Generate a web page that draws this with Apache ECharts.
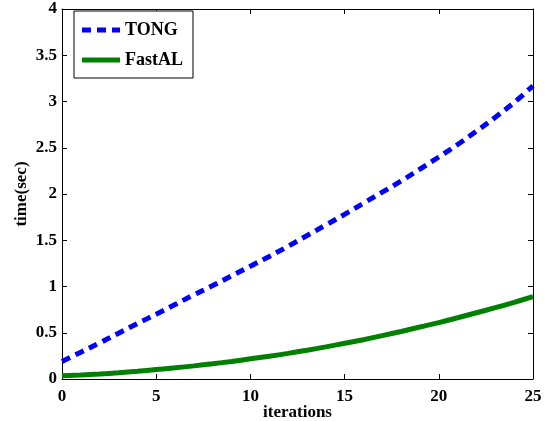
<!DOCTYPE html>
<html>
<head>
<meta charset="utf-8">
<script src="https://cdn.jsdelivr.net/npm/echarts@6/dist/echarts.min.js"></script>
<style>html,body{margin:0;padding:0;background:#fff}#c{width:550px;height:421px}</style>
</head>
<body>
<div id="c"></div>
<script>
const iterations = [0,1,2,3,4,5,6,7,8,9,10,11,12,13,14,15,16,17,18,19,20,21,22,23,24,25];
const tong = [0.19,0.29,0.39,0.495,0.60,0.70,0.805,0.91,1.01,1.115,1.22,1.325,1.435,1.55,1.665,1.78,1.90,2.02,2.14,2.27,2.40,2.535,2.68,2.83,2.99,3.17];
const fastal = [0.035,0.043,0.054,0.067,0.083,0.102,0.121,0.142,0.165,0.19,0.218,0.246,0.277,0.311,0.347,0.386,0.425,0.469,0.514,0.562,0.610,0.662,0.716,0.771,0.829,0.89];
const xTicks = [0,5,10,15,20,25];
const yTicks = [0,0.5,1,1.5,2,2.5,3,3.5,4];

const font = '"Liberation Serif","Times New Roman",serif';
const chart = echarts.init(document.getElementById('c'), null, {renderer:'canvas'});
const axisLineStyle = {color:'#000', width:1};
const baseX = {
  type:'value', min:0, max:25, interval:5,
  axisLine:{show:true, onZero:false, lineStyle:axisLineStyle},
  axisTick:{show:true, inside:true, length:5, lineStyle:axisLineStyle},
  splitLine:{show:false}
};
const baseY = {
  type:'value', min:0, max:4, interval:0.5,
  axisLine:{show:true, onZero:false, lineStyle:axisLineStyle},
  axisTick:{show:true, inside:true, length:5, lineStyle:axisLineStyle},
  splitLine:{show:false}
};
chart.setOption({
  animation:false,
  backgroundColor:'#fff',
  grid:{left:62, right:17, top:9, bottom:42, containLabel:false, outerBoundsMode:'none'},
  legend:{
    orient:'vertical', left:74, top:11,
    backgroundColor:'#fff',
    borderColor:'#000', borderWidth:1,
    padding:[10,10,9,8],
    itemWidth:38, itemHeight:5, itemGap:12,
    textStyle:{fontFamily:font, fontWeight:'bold', fontSize:18, color:'#000', padding:[0,0,0,0]},
    data:[{name:'TONG', icon:'path://M0,0 L9,0 L9,5 L0,5 Z M15,0 L24,0 L24,5 L15,5 Z M30,0 L38,0 L38,5 L30,5 Z', itemStyle:{color:'#0000ff'}},
          {name:'FastAL', icon:'rect', itemStyle:{color:'#008000'}}]
  },
  xAxis:[
    Object.assign({}, baseX, {
      position:'bottom',
      name:'iterations', nameLocation:'middle', nameGap:25, nameMoveOverlap:false,
      nameTextStyle:{fontFamily:font, fontWeight:'bold', fontSize:17, color:'#000'},
      axisLabel:{fontFamily:font, fontWeight:'bold', fontSize:17, color:'#000', margin:9,
        formatter:v => xTicks.includes(v) ? String(v) : ''}
    }),
    Object.assign({}, baseX, {position:'top', axisLabel:{show:false}})
  ],
  yAxis:[
    Object.assign({}, baseY, {
      position:'left',
      name:'time(sec)', nameLocation:'middle', nameGap:32, nameRotate:90, nameMoveOverlap:false,
      nameTextStyle:{fontFamily:font, fontWeight:'bold', fontSize:17, color:'#000'},
      axisLabel:{fontFamily:font, fontWeight:'bold', fontSize:17, color:'#000', margin:5,
        formatter:v => yTicks.includes(v) ? String(v) : ''}
    }),
    Object.assign({}, baseY, {position:'right', axisLabel:{show:false}})
  ],
  series:[
    {name:'TONG', type:'line', xAxisIndex:0, yAxisIndex:0, symbol:'none', smooth:0.4,
     data: iterations.map((x,i)=>[x, tong[i]]),
     lineStyle:{color:'#0000ff', width:5, type:[9,6]}, itemStyle:{color:'#0000ff'}},
    {name:'FastAL', type:'line', xAxisIndex:0, yAxisIndex:0, symbol:'none', smooth:0.4,
     data: iterations.map((x,i)=>[x, fastal[i]]),
     lineStyle:{color:'#008000', width:5}, itemStyle:{color:'#008000'}}
  ]
});
</script>
</body>
</html>
